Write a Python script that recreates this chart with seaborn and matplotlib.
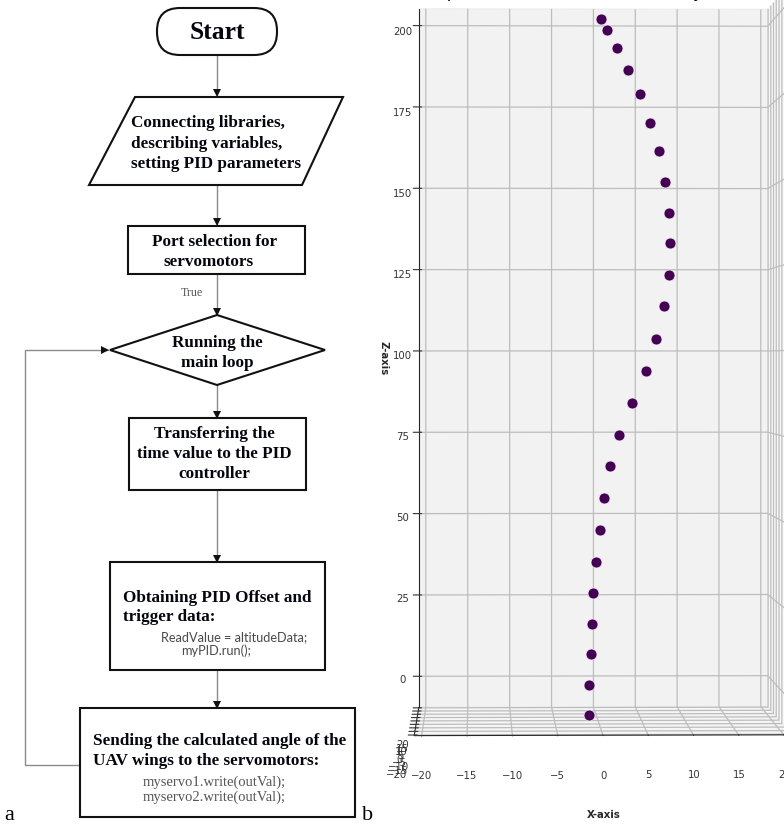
import matplotlib
matplotlib.use("Agg")
import matplotlib.pyplot as plt
import seaborn as sns
import pandas as pd
from matplotlib.patches import FancyBboxPatch, Polygon, Rectangle

# ---------------------------------------------------------------- data
# UAV trajectory samples (ordered in time, from the ground upwards)
x_pos = [-1.04, -1.00, -0.84, -0.66, -0.54, -0.23, 0.19, 0.65, 1.37, 2.40,
         3.93, 5.50, 6.68, 7.56, 8.22, 8.33, 8.22, 7.71, 7.02, 5.96,
         4.81, 3.44, 2.14, 1.06, 0.30]
y_pos = [0.0] * 25
z_alt = [-7.8, 1.0, 10.1, 19.2, 28.3, 37.4, 47.0, 56.5, 65.9, 75.1,
         84.6, 94.1, 103.6, 113.2, 122.4, 131.8, 140.9, 150.0, 159.2, 167.5,
         175.9, 183.1, 189.5, 194.9, 198.3]

x_ticks = [-20, -15, -10, -5, 0, 5, 10, 15, 20]
y_ticks = [-20, -15, -10, -5, 0, 5, 10, 15, 20]
z_ticks = [0, 25, 50, 75, 100, 125, 150, 175, 200]

plot_title = "3D plot of the UAV altitude history"

# flowchart texts
start_text = "Start"
init_lines = ["Connecting libraries,", "describing variables,", "setting PID parameters"]
port_lines = ["Port selection for", "servomotors"]
true_text = "True"
loop_lines = ["Running the", "main loop"]
time_lines = ["Transferring the", "time value to the PID", "controller"]
pid_lines = ["Obtaining PID Offset and", "trigger data:"]
pid_code = ["ReadValue = altitudeData;", "myPID.run();"]
send_lines = ["Sending the calculated angle of the", "UAV wings to the servomotors:"]
send_code = ["myservo1.write(outVal);", "myservo2.write(outVal);"]

df = pd.DataFrame({"x": x_pos, "y": y_pos, "z": z_alt})

# ---------------------------------------------------------------- style
sns.set_style("white")
plt.rcParams["grid.color"] = "#bdbdbd"
plt.rcParams["grid.linewidth"] = 0.9
point_color = sns.color_palette("viridis", as_cmap=True)(0.0)

W, H = 784, 825
fig = plt.figure(figsize=(W / 100, H / 100), dpi=100)

# ---------------------------------------------------------------- panel b: 3D scatter
ax3 = fig.add_axes([155.3 / W, 24.3 / H, 862.1 / W, 862.1 / H], projection="3d")
ax3.set_box_aspect((1, 1, 2))
ax3.view_init(elev=0, azim=-91.5)
ax3.scatter(df["x"], df["y"], df["z"], color=point_color, s=62,
            depthshade=False, edgecolors="#f3eef5", linewidths=0.5, alpha=1)
# limits keep a small margin around the +/-20 tick range
ax3.set_xlim(-20.83, 20.83)
ax3.set_ylim(-20.83, 20.83)
ax3.set_zlim(-9.54, 205.2)
ax3.set_xticks(x_ticks)
ax3.set_yticks(y_ticks)
ax3.set_zticks(z_ticks)
ax3.tick_params(labelsize=7.3, colors="#333333")
ax3.xaxis.set_tick_params(pad=6.5)
ax3.yaxis.set_tick_params(pad=7)
ax3.zaxis.set_tick_params(pad=7)
ax3.set_xlabel("X-axis", fontsize=7.3, fontweight="bold", labelpad=11.4)
ax3.set_ylabel("")
ax3.zaxis.set_rotate_label(False)
ax3.set_zlabel("Z-axis", fontsize=7.3, fontweight="bold", rotation=270, labelpad=12)
ax3.patch.set_alpha(0)

fig.text(418 / W, (H + 3.5) / H, plot_title, fontsize=12, ha="left",
         va="baseline", color="black")

# ---------------------------------------------------------------- panel a: flowchart
fc = fig.add_axes([0, 0, 380 / W, 1])
fc.set_xlim(0, 380)
fc.set_ylim(H, 0)
fc.axis("off")
fc.set_zorder(5)
fc.patch.set_visible(False)

serif = "Liberation Serif"
box_kw = dict(facecolor="white", edgecolor="#111111", linewidth=1.5, zorder=2)
bold_kw = dict(family=serif, fontweight="bold", fontsize=12.3, color="#05050f", zorder=3)
line_color = "#8a8a8a"


def connector(x0, y0, x1, y1, head="v"):
    fc.plot([x0, x1], [y0, y1], color=line_color, lw=1.0, zorder=1,
            solid_capstyle="butt")
    dx = {"v": (0, -3.2), ">": (-3.2, 0)}[head]
    fc.plot(x1 + dx[0], y1 + dx[1], marker=head, ms=5.2, color="#111111",
            zorder=4, markeredgewidth=0)


# start terminator
fc.add_patch(FancyBboxPatch((157, 8), 120, 47,
                            boxstyle="round,pad=0,rounding_size=23", **box_kw))
fc.text(217, 32.5, start_text, ha="center", va="center", family=serif,
        fontweight="bold", fontsize=18.4, color="#05050f", zorder=3)
connector(217, 55, 217, 96)

# input parallelogram
fc.add_patch(Polygon([(135, 97), (343, 97), (302, 185), (89, 185)], closed=True, **box_kw))
for i, t in enumerate(init_lines):
    fc.text(131, 123 + 20.5 * i, t, ha="left", va="center", **bold_kw)
connector(217, 185, 217, 225)

# port selection
fc.add_patch(Rectangle((128, 226), 177, 48, **box_kw))
fc.text(215, 242, port_lines[0], ha="center", va="center", **bold_kw)
fc.text(209, 262, port_lines[1], ha="center", va="center", **bold_kw)
connector(217, 274, 217, 315)
fc.text(192, 293, true_text, ha="center", va="center", family=serif,
        fontsize=8.6, color="#555555", zorder=3)

# main loop decision
fc.add_patch(Polygon([(217, 315), (325, 350), (217, 385), (110, 350)], closed=True, **box_kw))
fc.text(217, 343, loop_lines[0], ha="center", va="center", **bold_kw)
fc.text(217, 363, loop_lines[1], ha="center", va="center", **bold_kw)
connector(217, 385, 217, 418)

# time transfer
fc.add_patch(Rectangle((129, 418), 177, 72, **box_kw))
for i, t in enumerate(time_lines):
    fc.text(214, 434 + 20 * i, t, ha="center", va="center", **bold_kw)
connector(217, 490, 217, 562)

# PID offset
fc.add_patch(Rectangle((110, 562), 215, 108, **box_kw))
fc.text(123, 598, pid_lines[0], ha="left", va="center", **bold_kw)
fc.text(123, 617, pid_lines[1], ha="left", va="center", **bold_kw)
fc.text(234, 637, pid_code[0], ha="center", va="center", family="Lato",
        fontsize=9.2, color="#4a4a4a", zorder=3)
fc.text(216, 651, pid_code[1], ha="center", va="center", family="Lato",
        fontsize=9.2, color="#4a4a4a", zorder=3)
connector(217, 670, 217, 708)

# servo output
fc.add_patch(Rectangle((80, 708), 275, 109, **box_kw))
fc.text(93, 741, send_lines[0], ha="left", va="center", **bold_kw)
fc.text(93, 761, send_lines[1], ha="left", va="center", **bold_kw)
for i, t in enumerate(send_code):
    fc.text(214, 782 + 15 * i, t, ha="center", va="center", family=serif,
            fontsize=10.5, color="#555555", zorder=3)

# feedback loop back to the decision
fc.plot([80, 25, 25, 108], [765, 765, 350, 350], color=line_color, lw=1.0,
        zorder=1, solid_joinstyle="miter")
fc.plot(104.8, 350, marker=">", ms=5.2, color="#111111", zorder=4, markeredgewidth=0)

# panel letters
fc.text(4, 820, "a", ha="left", va="baseline", family=serif, fontsize=16, color="black")
fig.text(362 / W, (H - 820) / H, "b", ha="left", va="baseline", family=serif,
         fontsize=16, color="black", zorder=6)

fig.savefig("out.png", dpi=100)
